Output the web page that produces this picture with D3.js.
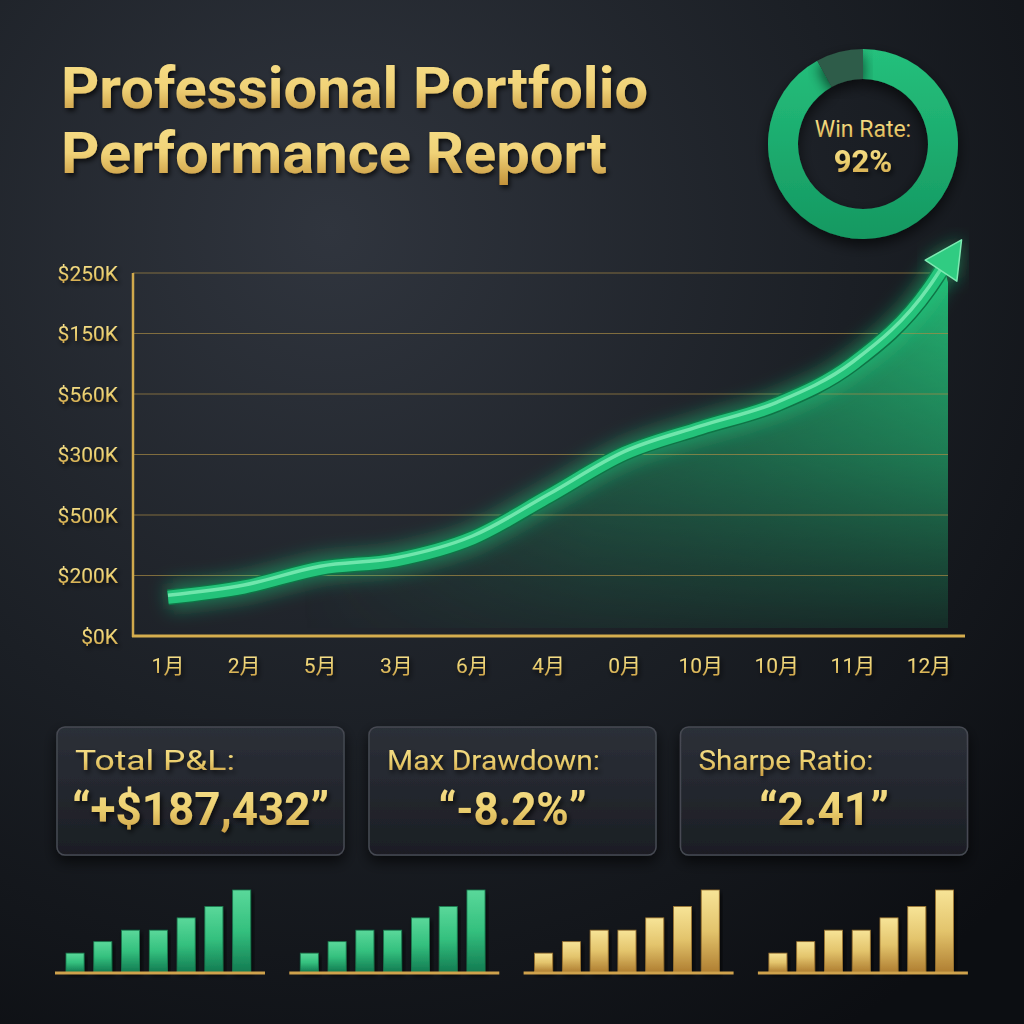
<!DOCTYPE html>
<html lang="en">
<head>
<meta charset="UTF-8">
<title>Portfolio Performance Report</title>
<script src="https://cdn.jsdelivr.net/npm/d3@7"></script>
<style>
  body { margin: 0; background: #111418; }
  svg { display: block; }
</style>
</head>
<body>
<script>
// ---- data ----
const months = ["1月", "2月", "5月", "3月", "6月", "4月", "0月", "10月", "10月", "11月", "12月"];
const yTickLabels = ["$0K", "$200K", "$500K", "$300K", "$560K", "$150K", "$250K"]; // bottom to top, as printed
const curveIdx = [0, 1, 2, 3, 4, 5, 6, 7, 8, 9, 10, 10.18];     // position along month axis
const curveVal = [0.64, 0.81, 1.12, 1.26, 1.62, 2.31, 3.02, 3.44, 3.83, 4.50, 5.74, 6.08]; // in gridline units
const winRate = [92, 8];
const cardLabels = ["Total P&L:", "Max Drawdown:", "Sharpe Ratio:"];
const cardValues = ["\u201C+$187,432\u201D", "\u201C-8.2%\u201D", "\u201C2.41\u201D"];
const miniBars = [2.3, 3.7, 5.1, 5.1, 6.6, 8.0, 10];
const miniColors = ["green", "green", "gold", "gold"];

const W = 1024, H = 1024;
const svg = d3.select("body").append("svg").attr("width", W).attr("height", H);
const defs = svg.append("defs");

// background
const bg = defs.append("radialGradient").attr("id", "bg")
  .attr("gradientUnits", "userSpaceOnUse").attr("cx", 330).attr("cy", 230).attr("r", 950);
bg.append("stop").attr("offset", 0).attr("stop-color", "#30353e");
bg.append("stop").attr("offset", 0.55).attr("stop-color", "#1b1f25");
bg.append("stop").attr("offset", 1).attr("stop-color", "#0c0e12");
svg.append("rect").attr("width", W).attr("height", H).attr("fill", "url(#bg)");

// gold gradients
function goldGrad(id, c1, c2, c3) {
  const g = defs.append("linearGradient").attr("id", id).attr("x1", 0).attr("y1", 0).attr("x2", 0).attr("y2", 1);
  g.append("stop").attr("offset", 0).attr("stop-color", c1);
  g.append("stop").attr("offset", 0.5).attr("stop-color", c2);
  g.append("stop").attr("offset", 1).attr("stop-color", c3);
}
goldGrad("goldTitle", "#f8e08a", "#f0d277", "#c08e36");
goldGrad("goldText", "#f8e28e", "#ecd070", "#c99b40");
goldGrad("goldBar", "#f7e497", "#e3c46c", "#b07f32");
goldGrad("greenBar", "#5ad89a", "#34c07e", "#137c52");

const shadow = defs.append("filter").attr("id", "shadow").attr("x", "-20%").attr("y", "-20%").attr("width", "140%").attr("height", "150%");
shadow.append("feDropShadow").attr("dx", 2).attr("dy", 3).attr("stdDeviation", 2.5).attr("flood-color", "#000").attr("flood-opacity", 0.7);

const cardShadow = defs.append("filter").attr("id", "cardShadow").attr("x", "-20%").attr("y", "-20%").attr("width", "140%").attr("height", "150%");
cardShadow.append("feDropShadow").attr("dx", 0).attr("dy", 6).attr("stdDeviation", 7).attr("flood-color", "#000").attr("flood-opacity", 0.65);

const glow = defs.append("filter").attr("id", "glow").attr("x", "-20%").attr("y", "-30%").attr("width", "140%").attr("height", "160%");
glow.append("feGaussianBlur").attr("stdDeviation", 9);

// ---- title ----
const title = svg.append("g").attr("font-family", "Roboto, 'Open Sans', sans-serif").attr("font-weight", 700)
  .attr("fill", "url(#goldTitle)").attr("filter", "url(#shadow)");
title.append("text").attr("x", 61).attr("y", 108).attr("font-size", 58)
  .attr("textLength", 587).attr("lengthAdjust", "spacingAndGlyphs").text("Professional Portfolio");
title.append("text").attr("x", 61).attr("y", 173).attr("font-size", 58)
  .attr("textLength", 546).attr("lengthAdjust", "spacingAndGlyphs").text("Performance Report");

// ---- main chart ----
const x = d3.scalePoint().domain(d3.range(months.length)).range([168, 929]);
const xLin = d3.scaleLinear().domain([0, months.length - 1]).range([168, 929]);
const y = d3.scaleLinear().domain([0, yTickLabels.length - 1]).range([636, 273]);
const axisLeft = 133, gridRight = 948, axisRight = 965;

const chart = svg.append("g");

// area gradient (horizontal) + vertical mask
const areaGrad = defs.append("linearGradient").attr("id", "areaGrad").attr("gradientUnits", "userSpaceOnUse")
  .attr("x1", 300).attr("y1", 0).attr("x2", gridRight).attr("y2", 0);
areaGrad.append("stop").attr("offset", 0).attr("stop-color", "#1a9a62").attr("stop-opacity", 0);
areaGrad.append("stop").attr("offset", 0.45).attr("stop-color", "#1ba668").attr("stop-opacity", 0.6);
areaGrad.append("stop").attr("offset", 1).attr("stop-color", "#24bb76").attr("stop-opacity", 0.95);
const maskGrad = defs.append("linearGradient").attr("id", "maskGrad").attr("gradientUnits", "userSpaceOnUse")
  .attr("x1", 0).attr("y1", 280).attr("x2", 0).attr("y2", 640);
maskGrad.append("stop").attr("offset", 0).attr("stop-color", "#fff");
maskGrad.append("stop").attr("offset", 0.5).attr("stop-color", "#a0a0a0");
maskGrad.append("stop").attr("offset", 1).attr("stop-color", "#1a1a1a");
defs.append("mask").attr("id", "areaMask").attr("maskUnits", "userSpaceOnUse")
  .attr("x", 0).attr("y", 0).attr("width", W).attr("height", H)
  .append("rect").attr("width", W).attr("height", H).attr("fill", "url(#maskGrad)");

const pts = curveIdx.map((d, i) => [xLin(d), y(curveVal[i])]);
const area = d3.area().x(d => d[0]).y0(y(0) - 8).y1(d => d[1]).curve(d3.curveMonotoneX);
chart.append("path").attr("d", area(pts.concat([[gridRight, pts[pts.length - 1][1] + 14]])))
  .attr("fill", "url(#areaGrad)").attr("mask", "url(#areaMask)");

// gridlines
chart.selectAll(".grid").data(d3.range(1, yTickLabels.length)).enter().append("line")
  .attr("class", "grid")
  .attr("x1", axisLeft).attr("x2", gridRight)
  .attr("y1", d => y(d)).attr("y2", d => y(d))
  .attr("stroke", "#a88a45").attr("stroke-opacity", 0.7).attr("stroke-width", 1.2);

// axes lines
chart.append("line").attr("x1", axisLeft).attr("x2", axisLeft).attr("y1", y(yTickLabels.length - 1)).attr("y2", y(0) + 1)
  .attr("stroke", "#d0a94c").attr("stroke-width", 2.5);
chart.append("line").attr("x1", axisLeft - 1).attr("x2", axisRight).attr("y1", y(0)).attr("y2", y(0))
  .attr("stroke", "#d6ae4e").attr("stroke-width", 3);

// y tick labels
chart.selectAll(".ylab").data(yTickLabels).enter().append("text")
  .attr("class", "ylab")
  .attr("x", 118).attr("y", (d, i) => y(i)).attr("dy", "0.36em")
  .attr("text-anchor", "end")
  .attr("font-family", "Roboto, sans-serif").attr("font-size", 21)
  .attr("fill", "url(#goldText)").attr("filter", "url(#shadow)")
  .text(d => d);

// x tick labels
chart.selectAll(".xlab").data(months).enter().append("text")
  .attr("class", "xlab")
  .attr("x", (d, i) => x(i)).attr("y", 673)
  .attr("text-anchor", "middle")
  .attr("font-family", "Roboto, 'Noto Sans CJK SC', sans-serif").attr("font-size", 21)
  .attr("fill", "url(#goldText)").attr("filter", "url(#shadow)")
  .text(d => d);

// line
const line = d3.line().curve(d3.curveMonotoneX);
const lp = line(pts);
chart.append("path").attr("d", lp).attr("fill", "none").attr("stroke", "#27d884")
  .attr("stroke-width", 26).attr("stroke-opacity", 0.45).attr("filter", "url(#glow)");
chart.append("path").attr("d", lp).attr("fill", "none").attr("stroke", "#0f7446")
  .attr("stroke-width", 16);
chart.append("path").attr("d", lp).attr("fill", "none").attr("stroke", "#24c37a")
  .attr("stroke-width", 13);
chart.append("path").attr("d", lp).attr("fill", "none").attr("stroke", "#8af2bd")
  .attr("stroke-width", 3.5).attr("stroke-opacity", 0.75).attr("transform", "translate(0,-2)");

// arrow head from the curve's end direction
const pEnd = pts[pts.length - 1], pPrev = pts[pts.length - 2];
let dx = pEnd[0] - pPrev[0], dy = pEnd[1] - pPrev[1];
const len = Math.hypot(dx, dy); dx /= len; dy /= len;
const px = -dy, py = dx;
const tip = [pEnd[0] + dx * 34, pEnd[1] + dy * 34];
const w1 = [pEnd[0] + px * 19 - dx * 3, pEnd[1] + py * 19 - dy * 3];
const w2 = [pEnd[0] - px * 19 - dx * 3, pEnd[1] - py * 19 - dy * 3];
chart.append("path").attr("d", d3.line()([tip, w1, w2]) + "Z")
  .attr("fill", "#27d884").attr("fill-opacity", 0.5).attr("filter", "url(#glow)");
chart.append("path").attr("d", d3.line()([tip, w1, w2]) + "Z")
  .attr("fill", "#30cc82").attr("stroke", "#7eeab2").attr("stroke-width", 1.5).attr("stroke-linejoin", "round");

// ---- donut ----
const donut = svg.append("g").attr("transform", "translate(863,144)");
const donutGrad = defs.append("linearGradient").attr("id", "donutGrad").attr("x1", 0).attr("y1", 0).attr("x2", 0).attr("y2", 1);
donutGrad.append("stop").attr("offset", 0).attr("stop-color", "#25c07c");
donutGrad.append("stop").attr("offset", 1).attr("stop-color", "#159861");
const pie = d3.pie().sort(null)(winRate);
const arc = d3.arc().innerRadius(65).outerRadius(95);
donut.selectAll(".slice").data(pie).enter().append("path")
  .attr("d", arc)
  .attr("fill", (d, i) => i === 0 ? "url(#donutGrad)" : "#2e5c48")
  .attr("filter", "url(#cardShadow)");
donut.append("text").attr("y", -7).attr("text-anchor", "middle")
  .attr("font-family", "Roboto, sans-serif").attr("font-size", 23)
  .attr("fill", "url(#goldText)").text("Win Rate:");
donut.append("text").attr("y", 28).attr("text-anchor", "middle")
  .attr("font-family", "Roboto, sans-serif").attr("font-weight", 700).attr("font-size", 31)
  .attr("fill", "url(#goldText)").attr("filter", "url(#shadow)").text("92%");

// ---- cards ----
const cardX = d3.scaleLinear().domain([0, 1]).range([57, 369]);
const cardW = 287, cardH = 128, cardY = 727;
const cardGrad = defs.append("linearGradient").attr("id", "cardGrad").attr("x1", 0).attr("y1", 0).attr("x2", 0).attr("y2", 1);
cardGrad.append("stop").attr("offset", 0).attr("stop-color", "#2c3038");
cardGrad.append("stop").attr("offset", 1).attr("stop-color", "#1b1e24");
const labelLen = [160, 213, 175], valueLen = [257, 148, 130];
const cards = svg.selectAll(".card").data(cardLabels).enter().append("g")
  .attr("class", "card").attr("transform", (d, i) => `translate(${cardX(i) - (i === 2 ? 0.5 : 0)},${cardY})`);
cards.append("rect").attr("width", cardW).attr("height", cardH).attr("rx", 8)
  .attr("fill", "url(#cardGrad)").attr("stroke", "#464a52").attr("stroke-width", 1.5)
  .attr("filter", "url(#cardShadow)");
cards.append("text").attr("x", 18).attr("y", 43)
  .attr("font-family", "Roboto, sans-serif").attr("font-size", 28)
  .attr("textLength", (d, i) => labelLen[i]).attr("lengthAdjust", "spacingAndGlyphs")
  .attr("fill", "url(#goldText)").attr("filter", "url(#shadow)").text(d => d);
cards.append("text").attr("x", cardW / 2).attr("y", 98).attr("text-anchor", "middle")
  .attr("font-family", "Roboto, sans-serif").attr("font-weight", 700).attr("font-size", 47)
  .attr("textLength", (d, i) => valueLen[i]).attr("lengthAdjust", "spacingAndGlyphs")
  .attr("fill", "url(#goldText)").attr("filter", "url(#shadow)").text((d, i) => cardValues[i]);

// ---- mini bar charts ----
const groupX = d3.scaleLinear().domain([0, 1]).range([66, 300.3]);
const barX = d3.scaleBand().domain(d3.range(miniBars.length)).range([0, 184.7]).paddingInner(0.35).paddingOuter(0);
const barH = d3.scaleLinear().domain([0, 10]).range([0, 82]);
const baseY = 972;
const groups = svg.selectAll(".mini").data(miniColors).enter().append("g")
  .attr("class", "mini").attr("transform", (d, i) => `translate(${groupX(i)},0)`);
groups.selectAll("rect").data(c => miniBars.map(v => ({ v, c }))).enter().append("rect")
  .attr("x", (d, i) => barX(i)).attr("width", barX.bandwidth())
  .attr("y", d => baseY - barH(d.v)).attr("height", d => barH(d.v))
  .attr("fill", d => d.c === "green" ? "url(#greenBar)" : "url(#goldBar)")
  .attr("stroke", d => d.c === "green" ? "#1a7a4e" : "#9a7330").attr("stroke-width", 0.8)
  .attr("filter", "url(#shadow)");
groups.append("line").attr("x1", -11).attr("x2", 199).attr("y1", baseY + 1).attr("y2", baseY + 1)
  .attr("stroke", "#cfa24c").attr("stroke-width", 3);
</script>
</body>
</html>
